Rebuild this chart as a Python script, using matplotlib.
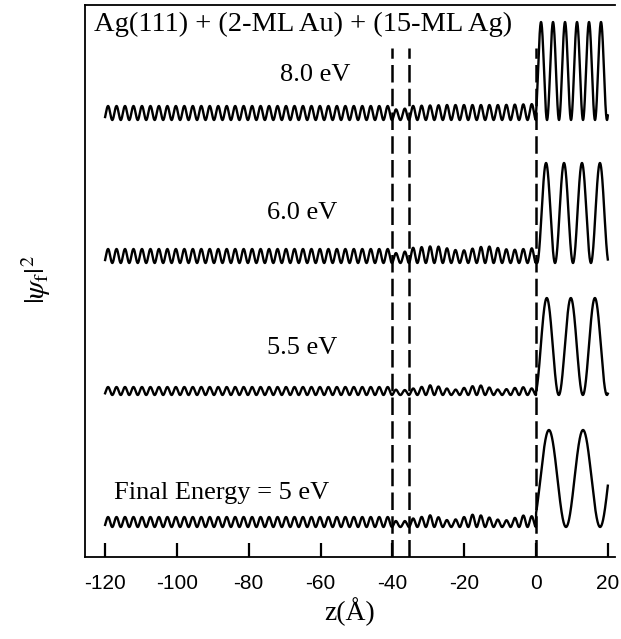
import numpy as np
import matplotlib
matplotlib.use("Agg")
import matplotlib.pyplot as plt

# ---- data ----
energies = ["8.0 eV", "6.0 eV", "5.5 eV", "Final Energy = 5 eV"]
baselines = [437, 294, 162, 30]            # zero level of each curve (arb. units)
vac_amp = [98, 100, 97, 97]                # vacuum |psi|^2 peak height
vac_period = [3.34, 5.0, 6.7, 9.5]         # vacuum |psi|^2 period (A)
vac_first_peak = [1.4, 2.8, 3.0, 3.6]      # position of first vacuum peak (A)
crystal_period = 2.36                      # Ag(111) interlayer spacing (A)
env_z = [
    [-120, -41, -38, -35, -25, -10, 0],
    [-120, -41, -38, -35, -28, -21, -14, -7, 0],
    [-120, -41, -38, -35, -29, -23, -16, -10, -4, 0],
    [-120, -41, -38, -35, -29, -24, -17, -9, -3, 0],
]
env_amp = [
    [14, 14, 9, 14, 15, 15, 16],
    [14, 14, 8, 15, 17, 12, 17, 13, 15],
    [8, 8, 4, 6, 10, 5, 10, 5, 8, 6],
    [10, 10, 4, 8, 12, 6, 13, 6, 12, 10],
]
dashed_z = [-40.1, -35.4, 0.0]
xticks = [-120, -100, -80, -60, -40, -20, 0, 20]
title = "Ag(111) + (2-ML Au) + (15-ML Ag)"

plt.rcParams['font.family'] = ['Liberation Serif', 'DejaVu Serif']
plt.rcParams['mathtext.fontset'] = 'stix'
fig = plt.figure(figsize=(6.21, 6.39), dpi=100)
ax = fig.add_axes([85/621, 1-557/639, (615-85)/621, (557-5)/639])

for i in range(4):
    zc = np.linspace(-120, 0, 6000)
    env = np.interp(zc, env_z[i], env_amp[i])
    yc = baselines[i] + env * np.sin(np.pi * zc / crystal_period) ** 2
    zv = np.linspace(0, 20, 1500)
    k = np.pi / vac_period[i]
    yv = baselines[i] + vac_amp[i] * np.sin(k * (zv - vac_first_peak[i]) + np.pi / 2) ** 2
    z = np.concatenate([zc, zv])
    y = np.concatenate([yc, yv])
    ax.plot(z, y, color='black', lw=1.7, solid_joinstyle='round')

for zd in dashed_z:
    ax.plot([zd, zd], [0, 509], color='black', lw=1.8, dashes=(7, 2.5))

ax.set_xlim(-125.6, 22)
ax.set_ylim(0, 552)
ax.spines['right'].set_visible(False)
for s in ['left', 'bottom', 'top']:
    ax.spines[s].set_linewidth(1.3)
ax.set_yticks([])
ax.set_xticks(xticks)
ax.set_xticklabels([str(t) for t in xticks], family='Liberation Sans', fontsize=15)
ax.tick_params(axis='x', direction='in', length=10, width=1.6, pad=12)

ax.text(-123, 533, title, fontsize=20.5, va='center', ha='left')
ax.text(-61.4, 482, energies[0], fontsize=19, ha='center', va='center')
ax.text(-65, 344, energies[1], fontsize=19, ha='center', va='center')
ax.text(-65, 209, energies[2], fontsize=19, ha='center', va='center')
ax.text(-117.4, 64, energies[3], fontsize=19, ha='left', va='center')

fig.text(36/621, 1-280/639, r"$|\psi_{\rm f}|^2$", rotation=90, fontsize=21,
         ha='center', va='center')
fig.text(350/621, 1-612/639, "z(Å)", fontsize=20, ha='center', va='center')

fig.savefig("out.png", dpi=100)
